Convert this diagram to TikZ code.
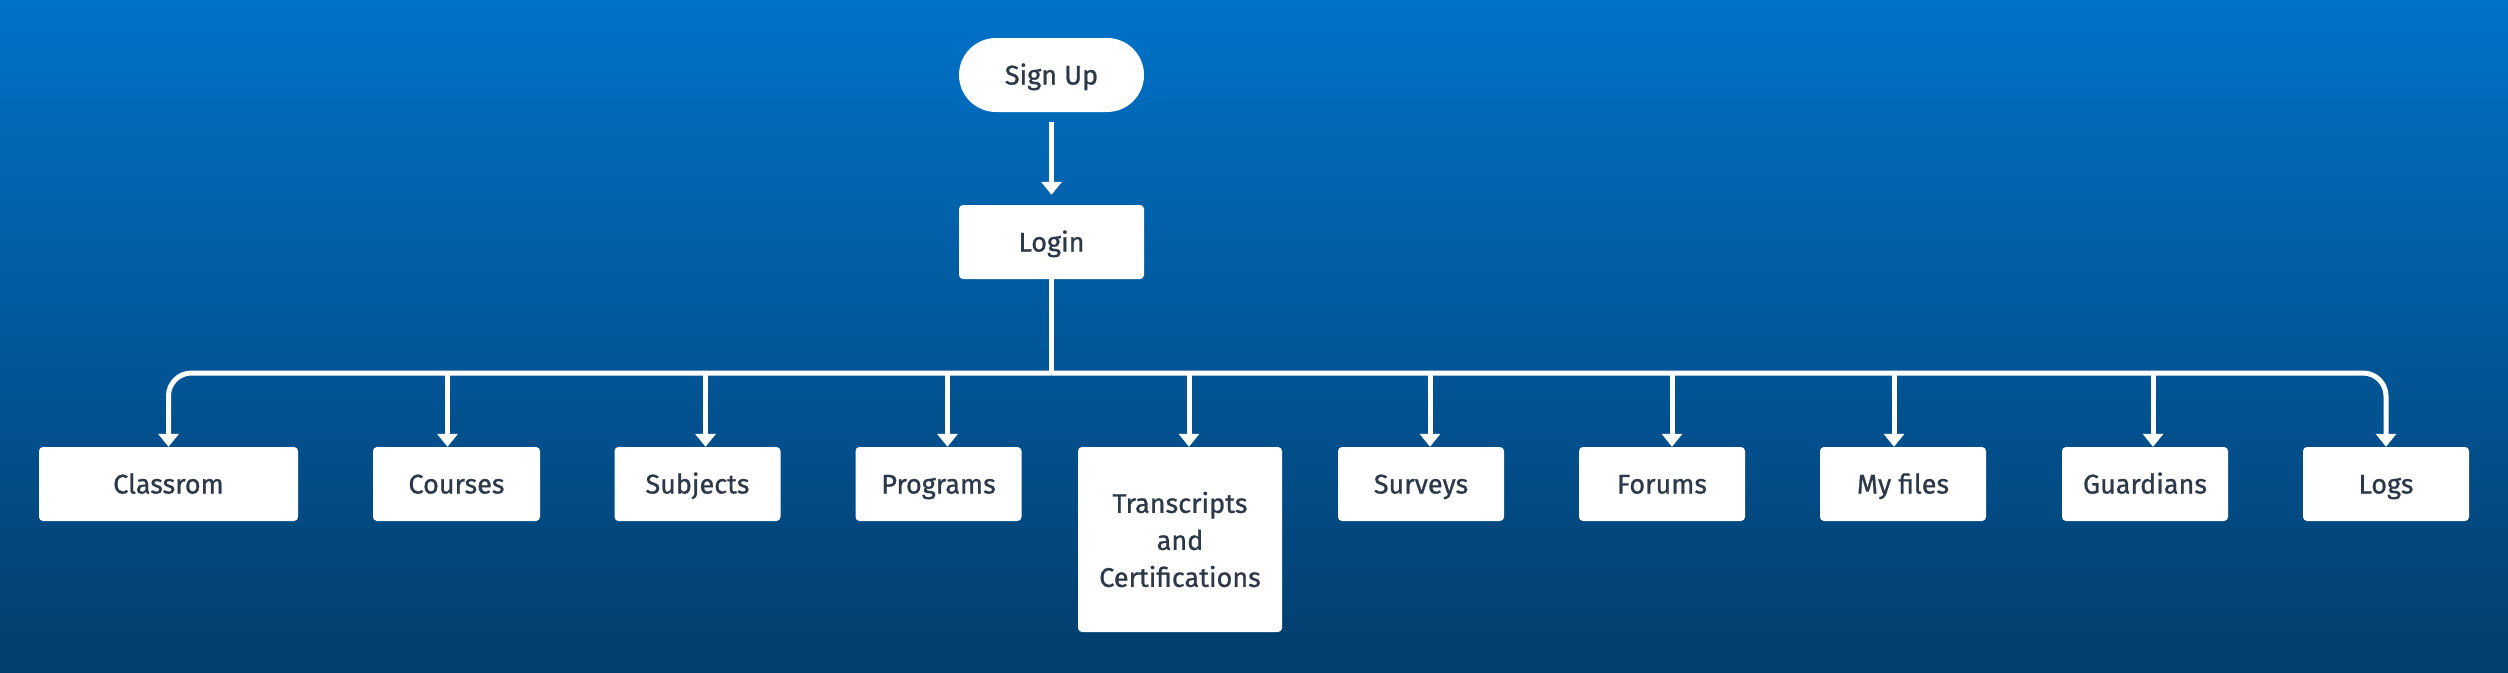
\documentclass[tikz,border=0pt]{standalone}
\usepackage{fontspec}
\setmainfont{Fira Sans}[FakeBold=0.9]
\usetikzlibrary{arrows.meta}
\definecolor{bgtop}{RGB}{0,114,200}
\definecolor{bgbot}{RGB}{3,61,108}
\definecolor{txt}{RGB}{45,57,72}
\begin{document}
\begin{tikzpicture}[x=1pt,y=-1pt,
  box/.style={draw=none,fill=white,rounded corners=4pt,minimum height=74pt,
    inner sep=0pt,align=center,text=txt,font=\fontsize{27}{37}\selectfont},
  onebox/.style={box,text height=25pt,text depth=6pt},
  pill/.style={onebox,rounded corners=37pt},
  conn/.style={draw=white,line width=5pt},
  arr/.style={conn,-{Triangle[width=20pt,length=13pt]}}]
\shade[top color=bgtop,bottom color=bgbot] (0,0) rectangle (2508,672);
\useasboundingbox (0,0) rectangle (2508,672);
\node[pill,minimum width=185pt] (signup) at (1051.5,75) {Sign Up};
\node[onebox,minimum width=185pt] (login) at (1051.5,242) {Login};
\node[onebox,minimum width=259pt] (classroom) at (168.5,484) {Classrom};
\node[onebox,minimum width=167pt] (courses) at (456.5,484) {Courses};
\node[onebox,minimum width=166pt] (subjects) at (697.5,484) {Subjects};
\node[onebox,minimum width=166pt] (programs) at (938.5,484) {Programs};
\node[box,minimum width=204pt,minimum height=185pt] (transcripts) at (1180,539.5) {Transcripts\\and\\Certifications};
\node[onebox,minimum width=166pt] (surveys) at (1421,484) {Surveys};
\node[onebox,minimum width=166pt] (forums) at (1662,484) {Forums};
\node[onebox,minimum width=166pt] (myfiles) at (1903,484) {My files};
\node[onebox,minimum width=166pt] (guardians) at (2145,484) {Guardians};
\node[onebox,minimum width=166pt] (logs) at (2386,484) {Logs};
\coordinate (bus) at (1051.5,373);
\draw[arr,shorten <=10pt,shorten >=10pt] (signup.south) -- (login.north);
\draw[conn] (login.south) -- (bus);
\draw[arr,rounded corners=23pt] (bus) -| (classroom.north);
\draw[arr,rounded corners=23pt] (bus) -| (logs.north);
\coordinate (t2) at ([xshift=-9pt]courses.north);
\coordinate (t3) at ([xshift=8pt]subjects.north);
\coordinate (t4) at ([xshift=9pt]programs.north);
\coordinate (t5) at ([xshift=9pt]transcripts.north);
\coordinate (t6) at ([xshift=9pt]surveys.north);
\coordinate (t7) at ([xshift=10pt]forums.north);
\coordinate (t8) at ([xshift=-9pt]myfiles.north);
\coordinate (t9) at ([xshift=8pt]guardians.north);
\foreach \t in {t2,t3,t4,t5,t6,t7,t8,t9}
  \draw[arr] (\t |- bus) -- (\t);
\end{tikzpicture}
\end{document}
